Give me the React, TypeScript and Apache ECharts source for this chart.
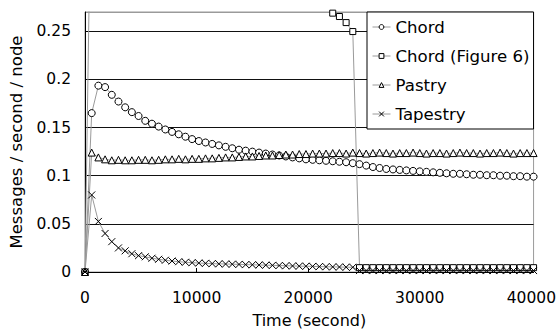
import React, { useEffect, useRef } from "react";
import * as echarts from "echarts";

const times: number[] = [
  0, 600, 1200, 1800, 2400, 3000, 3600, 4200, 4800, 5400, 6000, 6600, 7200, 7800, 8400, 9000, 9600,
  10200, 10800, 11400, 12000, 12600, 13200, 13800, 14400, 15000, 15600, 16200, 16800, 17400, 18000,
  18600, 19200, 19800, 20400, 21000, 21600, 22200, 22800, 23400, 24000, 24600, 25200, 25800, 26400,
  27000, 27600, 28200, 28800, 29400, 30000, 30600, 31200, 31800, 32400, 33000, 33600, 34200, 34800,
  35400, 36000, 36600, 37200, 37800, 38400, 39000, 39600, 40200,
];

const chord: number[] = [
  0, 0.165, 0.1935, 0.192, 0.184, 0.177, 0.171, 0.166, 0.162, 0.157, 0.154, 0.151, 0.148, 0.1455,
  0.143, 0.1405, 0.138, 0.136, 0.1345, 0.133, 0.1315, 0.13, 0.1285, 0.127, 0.126, 0.125, 0.124,
  0.123, 0.122, 0.121, 0.12, 0.119, 0.118, 0.117, 0.1165, 0.116, 0.1155, 0.115, 0.1145, 0.114,
  0.113, 0.112, 0.1105, 0.109, 0.108, 0.107, 0.1065, 0.106, 0.1055, 0.105, 0.1045, 0.104, 0.1035,
  0.103, 0.1025, 0.102, 0.102, 0.1015, 0.101, 0.101, 0.1005, 0.1005, 0.1, 0.1, 0.0995, 0.0995,
  0.099, 0.099,
];

const chordFig6: number[] = [
  0, 0.46, 0.44, 0.425, 0.41, 0.4, 0.39, 0.38, 0.372, 0.364, 0.357, 0.35, 0.344, 0.338, 0.333,
  0.328, 0.323, 0.318, 0.314, 0.31, 0.306, 0.302, 0.299, 0.296, 0.293, 0.29, 0.288, 0.286, 0.284,
  0.282, 0.28, 0.279, 0.278, 0.277, 0.276, 0.2755, 0.275, 0.2688, 0.2653, 0.259, 0.2497, 0.0045,
  0.0045, 0.0045, 0.0045, 0.0045, 0.0045, 0.0045, 0.0045, 0.0045, 0.0045, 0.0045, 0.0045, 0.0045,
  0.0045, 0.0045, 0.0045, 0.0045, 0.0045, 0.0045, 0.0045, 0.0045, 0.0045, 0.0045, 0.0045, 0.0045,
  0.0045, 0.0045,
];

const pastry: number[] = [
  0, 0.124, 0.119, 0.117, 0.116, 0.1165, 0.116, 0.116, 0.1165, 0.1165, 0.116, 0.1165, 0.117, 0.117,
  0.1175, 0.117, 0.1175, 0.1175, 0.118, 0.118, 0.1185, 0.119, 0.119, 0.1195, 0.12, 0.12, 0.1205,
  0.121, 0.121, 0.1215, 0.122, 0.122, 0.1225, 0.1225, 0.123, 0.123, 0.123, 0.1235, 0.1235, 0.123,
  0.124, 0.1235, 0.123, 0.1235, 0.124, 0.1235, 0.123, 0.1235, 0.1235, 0.124, 0.1235, 0.123, 0.1235,
  0.1235, 0.123, 0.1235, 0.124, 0.1235, 0.1235, 0.123, 0.1235, 0.1235, 0.124, 0.1235, 0.123, 0.1235,
  0.1235, 0.1235,
];

const tapestry: number[] = [
  0, 0.08, 0.0525, 0.04, 0.0315, 0.025, 0.022, 0.019, 0.017, 0.0158, 0.0143, 0.0132, 0.0122, 0.0114,
  0.0107, 0.0101, 0.0097, 0.0093, 0.009, 0.0087, 0.0085, 0.0083, 0.0081, 0.0079, 0.0077, 0.0075,
  0.0073, 0.0071, 0.0069, 0.0067, 0.0065, 0.0063, 0.0061, 0.006, 0.0058, 0.0056, 0.0055, 0.0053,
  0.0052, 0.005, 0.0049, 0.0015, 0.0015, 0.0015, 0.0015, 0.0015, 0.0015, 0.0015, 0.0015, 0.0015,
  0.0015, 0.0015, 0.0015, 0.0015, 0.0015, 0.0015, 0.0015, 0.0015, 0.0015, 0.0015, 0.0015, 0.0015,
  0.0015, 0.0015, 0.0015, 0.0015, 0.0015, 0.0015,
];

const seriesNames = ["Chord", "Chord (Figure 6)", "Pastry", "Tapestry"];
const xTickLabels = ["0", "10000", "20000", "30000", "40000"];

const FONT = "DejaVu Sans";
const LINE_GRAY = "#9a9a9a";

export default function App() {
  const ref = useRef<HTMLDivElement>(null);
  useEffect(() => {
    if (!ref.current) return;
    const chart = echarts.init(ref.current, undefined, { renderer: "svg" });
    const pair = (vals: number[]) => times.map((t, i) => [t, vals[i]]);
    const lineStyle = { color: LINE_GRAY, width: 1 };
    const itemStyle = { color: "#ffffff", borderColor: "#000000", borderWidth: 1 };
    const mk = (name: string, vals: number[], symbol: string, size: number) => ({
      name,
      type: "line",
      data: pair(vals),
      symbol,
      symbolSize: size,
      showAllSymbol: true,
      clip: true,
      lineStyle,
      itemStyle,
      emphasis: { disabled: true },
    });
    chart.setOption({
      animation: false,
      backgroundColor: "#ffffff",
      textStyle: { fontFamily: FONT },
      grid: {
        left: 85,
        right: 25,
        top: 12,
        bottom: 61,
        show: true,
        borderColor: LINE_GRAY,
        borderWidth: 1,
        backgroundColor: "#ffffff",
      },
      legend: {
        orient: "vertical",
        left: 367,
        top: 12,
        backgroundColor: "#ffffff",
        borderColor: "#000000",
        borderWidth: 1,
        padding: [5, 4, 5, 5],
        itemWidth: 18,
        itemHeight: 6,
        itemGap: 9,
        itemStyle: { color: "#ffffff", borderColor: "#000000", borderWidth: 1 },
        lineStyle: { color: LINE_GRAY, width: 1 },
        textStyle: { fontFamily: FONT, fontSize: 16.6, color: "#000", lineHeight: 20 },
        data: seriesNames,
      },
      xAxis: {
        type: "value",
        min: 0,
        max: 40200,
        interval: 10000,
        name: "Time (second)",
        nameLocation: "middle",
        nameGap: 40,
        nameTextStyle: { fontFamily: FONT, fontSize: 16, color: "#000" },
        axisLine: { show: true, onZero: false, lineStyle: { color: "#000", width: 1 } },
        axisTick: { show: true, inside: true, length: 4, lineStyle: { color: "#000" } },
        axisLabel: {
          fontFamily: FONT,
          fontSize: 15.5,
          color: "#000",
          margin: 18,
          showMaxLabel: false,
          formatter: (v: number) => {
            const idx = Math.round(v / 10000);
            return Math.abs(v - idx * 10000) < 1e-6 && xTickLabels[idx] !== undefined ? xTickLabels[idx] : "";
          },
        },
        splitLine: { show: false },
      },
      yAxis: {
        type: "value",
        min: 0,
        max: 0.27,
        interval: 0.05,
        name: "Messages / second / node",
        nameLocation: "middle",
        nameGap: 60,
        nameTextStyle: { fontFamily: FONT, fontSize: 16.5, color: "#000" },
        axisLine: { show: true, lineStyle: { color: "#000", width: 1 } },
        axisTick: { show: true, inside: true, length: 4, lineStyle: { color: "#000" } },
        axisLabel: {
          fontFamily: FONT,
          fontSize: 15.5,
          color: "#000",
          margin: 14,
          showMaxLabel: false,
        },
        splitLine: {
          show: true,
          lineStyle: {
            color: ["#111", "#111", "#111", "#111", "#111", "#111", LINE_GRAY],
            width: 1,
          },
        },
      },
      series: [
        mk("Chord", chord, "circle", 7),
        mk("Chord (Figure 6)", chordFig6, "rect", 6),
        mk("Pastry", pastry, "triangle", 7),
        mk("Tapestry", tapestry, "path://M0,0L10,10M10,0L0,10", 7),
      ],
    });
    return () => chart.dispose();
  }, []);
  return (
    <div
      ref={ref}
      style={{ position: "fixed", left: 0, top: 0, width: 559, height: 333 }}
    />
  );
}
